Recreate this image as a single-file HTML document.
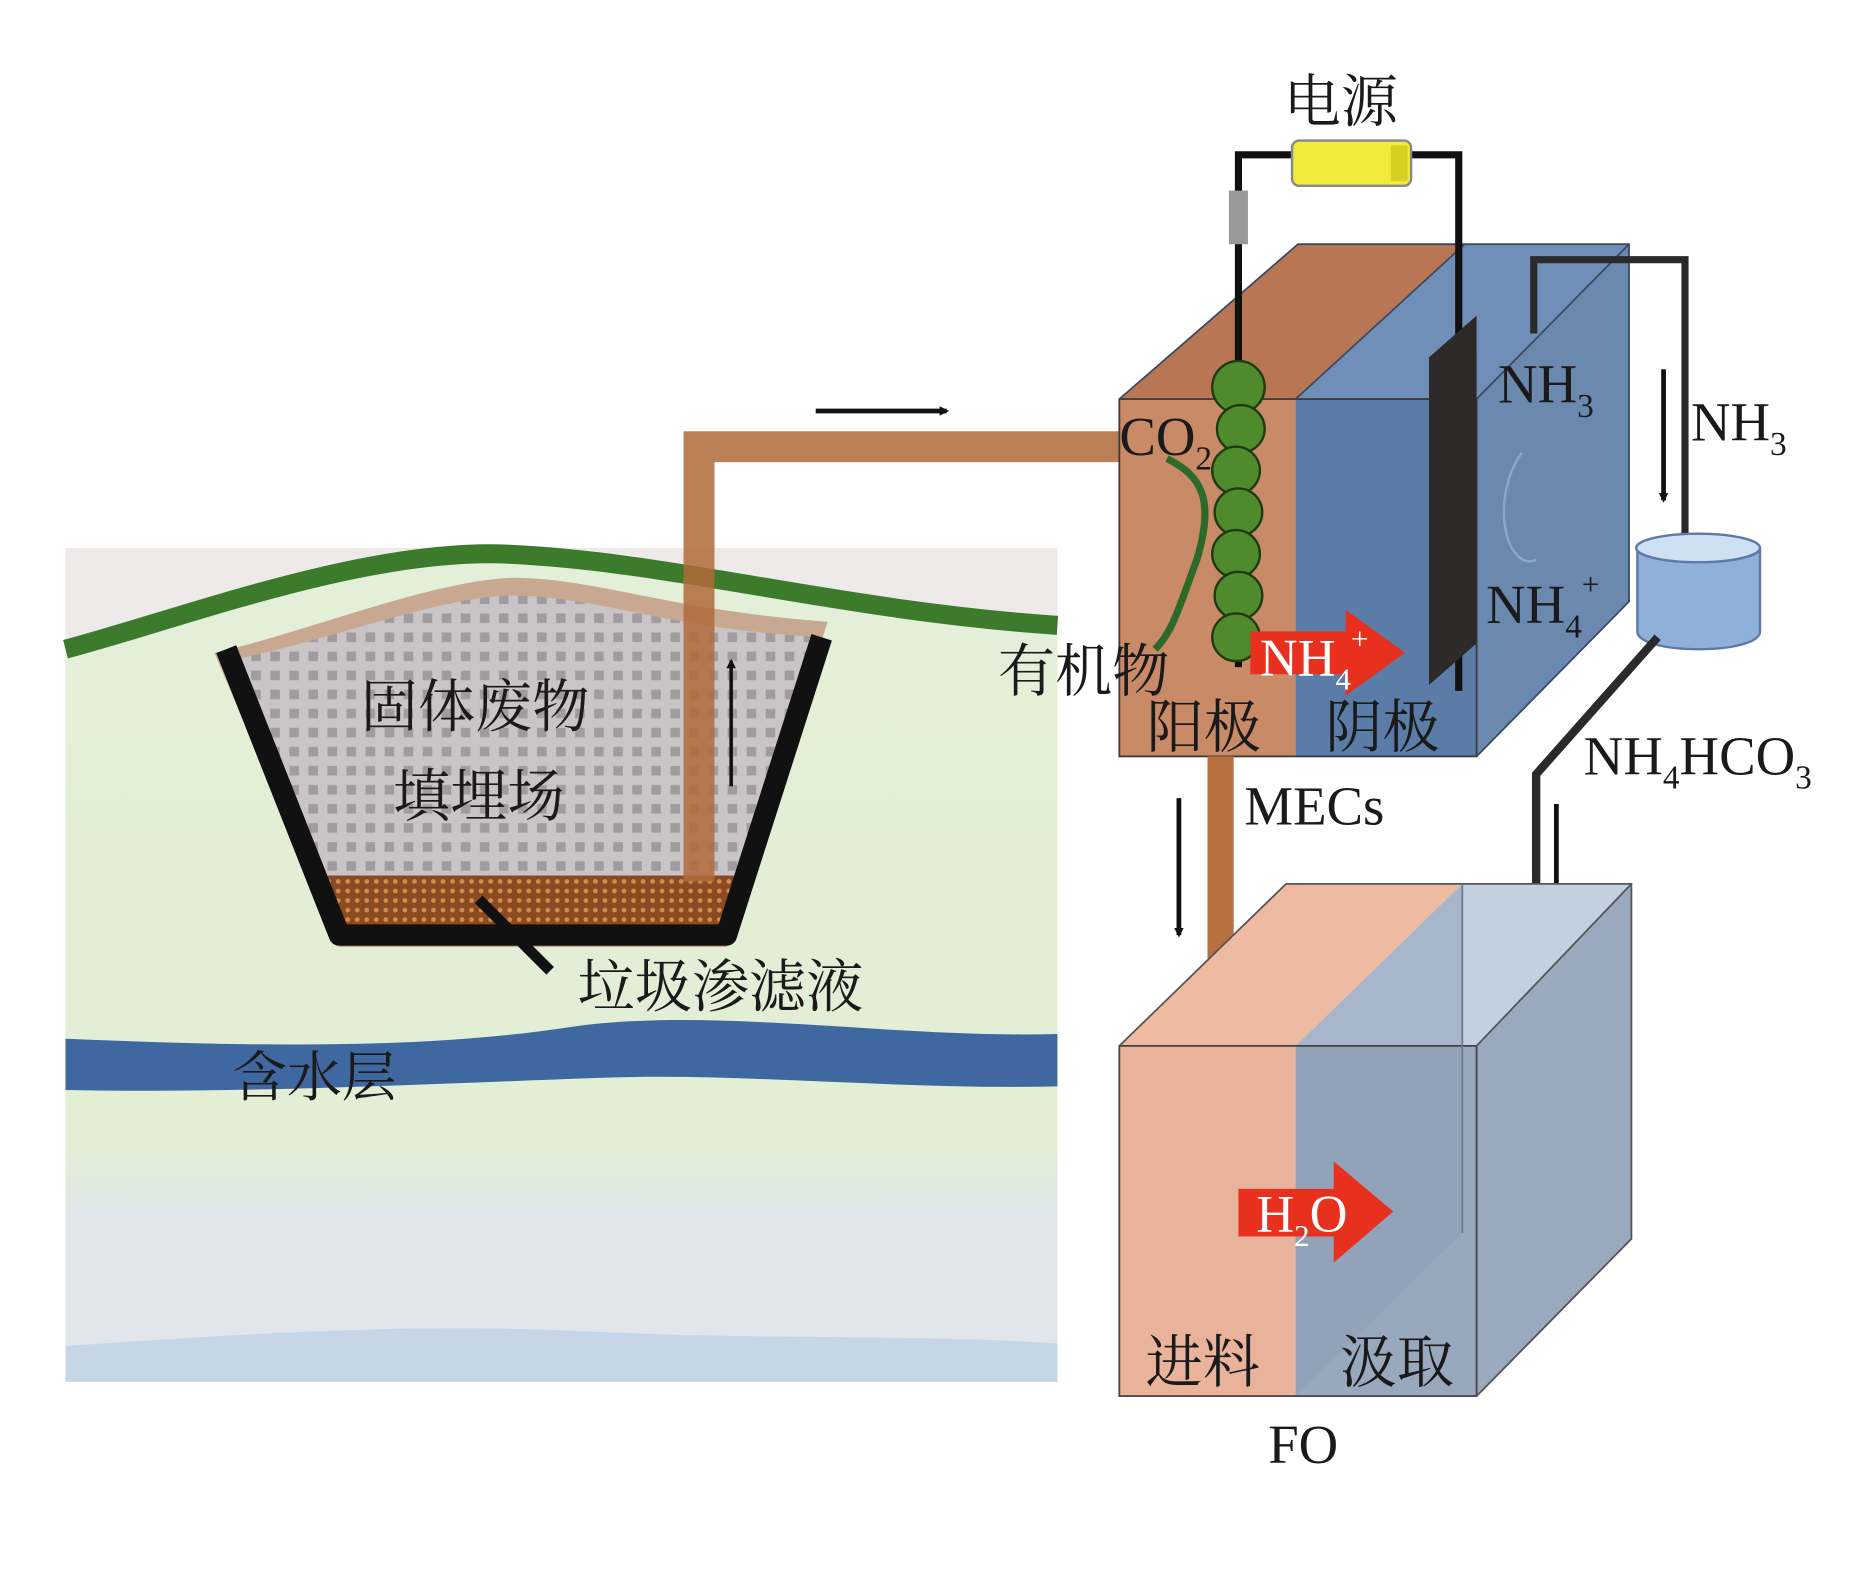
<!DOCTYPE html>
<html><head><meta charset="utf-8"><style>
html,body{margin:0;padding:0;background:#fff;}
svg{display:block;}
text{font-family:"Liberation Serif","Noto Serif CJK SC",serif;fill:#1a1a1a;}
</style></head><body>
<svg width="1866" height="1570" viewBox="0 0 1567 1318" preserveAspectRatio="none" xmlns="http://www.w3.org/2000/svg">
<defs>
<pattern id="dots" width="16" height="16" patternUnits="userSpaceOnUse">
<rect width="16" height="16" fill="#c9c4c6"/>
<rect x="3" y="3" width="8" height="8" fill="#8f8a8e" opacity="0.7"/>
</pattern>
<pattern id="bdots" width="8" height="8" patternUnits="userSpaceOnUse">
<rect width="8" height="8" fill="#8a4a22"/>
<circle cx="4" cy="4" r="2" fill="#d88a4a"/>
</pattern>
<linearGradient id="ground" x1="0" y1="0" x2="0" y2="1">
<stop offset="0" stop-color="#e3efd8"/>
<stop offset="0.72" stop-color="#e2efd5"/>
<stop offset="0.8" stop-color="#dfe7ec"/>
<stop offset="1" stop-color="#e0e6ec"/>
</linearGradient>
<marker id="ah" markerWidth="8" markerHeight="8" refX="6" refY="4" orient="auto" markerUnits="userSpaceOnUse">
<path d="M0,0 L8,4 L0,8 Z" fill="#111"/>
</marker>
</defs>

<rect x="55" y="460" width="833" height="700" fill="url(#ground)"/>
<path d="M55,460 H888 V525 C700,510 560,470 420,465 C300,462 150,520 55,545 Z" fill="#eeeaea"/>
<path d="M55,1130 C200,1120 350,1110 500,1118 C650,1125 780,1120 888,1128 V1160 H55 Z" fill="#c7d6e6"/>
<path d="M55,872 C200,878 350,882 480,862 C600,845 750,872 888,868 V912 C750,915 620,900 500,905 C360,910 200,918 55,915 Z" fill="#3f67a0"/>
<path d="M55,545 C150,520 300,462 420,465 C560,470 700,512 888,525" fill="none" stroke="#3c7a2c" stroke-width="16"/>
<path d="M180,548 C260,530 360,488 430,485 C500,485 560,512 695,522 L610,795 H285 Z" fill="#c9a891"/>
<path d="M190,555 C270,540 370,500 430,500 C500,500 560,528 690,535 L610,792 H285 Z" fill="url(#dots)"/>
<path d="M265,735 H625 L610,790 H285 Z" fill="url(#bdots)"/>
<path d="M190,545 L285,785 H610 L690,535" fill="none" stroke="#111" stroke-width="18" stroke-linejoin="round"/>
<line x1="402" y1="755" x2="462" y2="815" stroke="#111" stroke-width="9"/>
<path d="M587,740 V375 H940" fill="none" stroke="#b06a3a" stroke-width="26" opacity="0.85"/>
<line x1="614" y1="660" x2="614" y2="555" stroke="#111" stroke-width="3" marker-end="url(#ah)"/>
<line x1="685" y1="345" x2="795" y2="345" stroke="#111" stroke-width="4" marker-end="url(#ah)"/>

<text x="303" y="610" font-size="48">固体废物</text>
<text x="330" y="685" font-size="48">填埋场</text>
<text x="485" y="845" font-size="48">垃圾渗滤液</text>
<text x="195" y="920" font-size="46" fill="#2a3a55">含水层</text>

<polygon points="940,335 1090,205 1230,205 1088,335" fill="#b97654"/>
<polygon points="1088,335 1230,205 1368,205 1240,335" fill="#6f8fb8"/>
<polygon points="1240,335 1368,205 1368,505 1240,635" fill="#6b89ae"/>
<rect x="940" y="335" width="148" height="300" fill="#c98a67"/>
<rect x="1088" y="335" width="152" height="300" fill="#5b7ca6"/>
<rect x="940" y="335" width="300" height="300" fill="none" stroke="#3a3a3a" stroke-width="1.5"/>
<polyline points="940,335 1090,205 1368,205 1368,505 1240,635" fill="none" stroke="#3a4a60" stroke-width="1.5"/>
<line x1="1088" y1="335" x2="1230" y2="205" stroke="#3a4a60" stroke-width="1.5"/>
<line x1="1240" y1="335" x2="1368" y2="205" stroke="#3a4a60" stroke-width="1.5"/>
<path d="M1278,380 C1250,420 1265,480 1290,470" fill="none" stroke="#8aa8cc" stroke-width="2"/>
<polyline points="1040,560 1040,130 1090,130" fill="none" stroke="#111" stroke-width="6"/>
<polyline points="1180,130 1225,130 1225,580" fill="none" stroke="#111" stroke-width="6"/>
<rect x="1032" y="160" width="16" height="45" fill="#999"/>
<rect x="1085" y="118" width="100" height="38" rx="6" fill="#f0ea3a" stroke="#888" stroke-width="2"/>
<rect x="1168" y="122" width="14" height="30" fill="#d8d020"/>
<polygon points="1200,300 1240,265 1240,540 1200,575" fill="#2e2a2a"/>
<g fill="#4f8a2c" stroke="#1d3a10" stroke-width="2">
<circle cx="1040" cy="325" r="22"/><circle cx="1042" cy="360" r="20"/><circle cx="1038" cy="395" r="20"/>
<circle cx="1040" cy="430" r="20"/><circle cx="1038" cy="465" r="20"/><circle cx="1040" cy="500" r="20"/>
<circle cx="1038" cy="535" r="20"/>
</g>
<path d="M980,385 C1010,400 1020,420 1005,470 C990,510 985,530 970,545" fill="none" stroke="#2d6a2a" stroke-width="6"/>
<polyline points="1288,280 1288,218 1415,218 1415,525" fill="none" stroke="#2a2a2a" stroke-width="6"/>
<line x1="1397" y1="310" x2="1397" y2="420" stroke="#111" stroke-width="4" marker-end="url(#ah)"/>
<path d="M1375,460 V530 C1375,550 1478,550 1478,530 V460" fill="#8fb0d8" stroke="#5b7aa8" stroke-width="2"/>
<ellipse cx="1426" cy="460" rx="52" ry="12" fill="#cfe0f2" stroke="#5b7aa8" stroke-width="2"/>
<polyline points="1392,535 1290,650 1290,805" fill="none" stroke="#2a2a2a" stroke-width="7"/>
<line x1="1307" y1="675" x2="1307" y2="785" stroke="#111" stroke-width="4" marker-end="url(#ah)"/>
<line x1="990" y1="670" x2="990" y2="785" stroke="#111" stroke-width="4" marker-end="url(#ah)"/>
<rect x="1014" y="635" width="22" height="200" fill="#b8703e"/>

<polygon points="940,878 1080,742 1228,742 1088,878" fill="#eebba2"/>
<polygon points="1088,878 1228,742 1370,742 1240,878" fill="#c3d0e0"/>
<polygon points="1240,878 1370,742 1370,1040 1240,1172" fill="#9aa9bd"/>
<rect x="940" y="878" width="148" height="294" fill="#e8b39a"/>
<rect x="1088" y="878" width="152" height="294" fill="#98a8bd"/>
<polygon points="1088,878 1228,742 1228,1035 1088,1172" fill="#8b9cb3" opacity="0.5"/>
<rect x="940" y="878" width="300" height="294" fill="none" stroke="#444" stroke-width="1.5"/>
<polyline points="940,878 1080,742 1370,742 1370,1040 1240,1172" fill="none" stroke="#555" stroke-width="1.5"/>
<line x1="1240" y1="878" x2="1370" y2="742" stroke="#555" stroke-width="1.5"/>
<line x1="1228" y1="742" x2="1228" y2="1035" stroke="#6a7a90" stroke-width="1.5"/>

<polygon points="1050,530 1130,530 1130,512 1180,548 1130,584 1130,566 1050,566" fill="#e8301e"/>
<polygon points="1040,998 1120,998 1120,975 1170,1017 1120,1060 1120,1038 1040,1038" fill="#e8301e"/>
<text x="1058" y="567" font-size="44" style="fill:#fff">NH<tspan font-size="26" dy="12">4</tspan><tspan font-size="26" dy="-34">+</tspan></text>
<text x="1055" y="1034" font-size="44" style="fill:#fff">H<tspan font-size="26" dy="12">2</tspan><tspan dy="-12">O</tspan></text>

<text x="1078" y="102" font-size="48">电源</text>
<text x="940" y="382" font-size="46">CO<tspan font-size="28" dy="12">2</tspan></text>
<text x="838" y="580" font-size="48">有机物</text>
<text x="963" y="627" font-size="48">阳极</text>
<text x="1113" y="627" font-size="48">阴极</text>
<text x="1045" y="692" font-size="46">MECs</text>
<text x="1258" y="338" font-size="46">NH<tspan font-size="28" dy="12">3</tspan></text>
<text x="1420" y="370" font-size="46">NH<tspan font-size="28" dy="12">3</tspan></text>
<text x="1248" y="523" font-size="46">NH<tspan font-size="28" dy="12">4</tspan><tspan font-size="26" dy="-36">+</tspan></text>
<text x="1330" y="650" font-size="46">NH<tspan font-size="28" dy="12">4</tspan><tspan dy="-12">HCO</tspan><tspan font-size="28" dy="12">3</tspan></text>
<text x="962" y="1160" font-size="48">进料</text>
<text x="1125" y="1160" font-size="48">汲取</text>
<text x="1065" y="1228" font-size="46">FO</text>
</svg>
</body></html>
